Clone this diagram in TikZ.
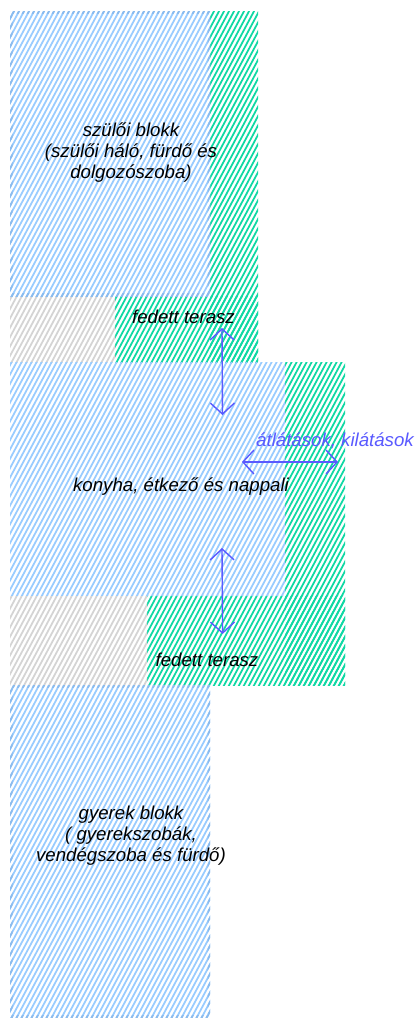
\documentclass[tikz,border=0pt]{standalone}
\usepackage{fontspec}
\setmainfont{Liberation Sans}
\usetikzlibrary{arrows.meta}
\definecolor{hblue}{HTML}{99CCFF}
\definecolor{hedge}{HTML}{8ABBEE}
\definecolor{hgreen}{HTML}{10D8A4}
\definecolor{hgrey}{HTML}{D4D4D4}
\definecolor{arrowblue}{HTML}{5A5AFF}
\newcommand{\hatchrect}[5]{% colour, x0,y0,x1,y1
  \begin{scope}
    \clip (#2,#3) rectangle (#4,#5);
    \foreach \k in {-160,...,90}{
      \draw[#1,line width=1.75pt] ({\k*5},1030) -- ({\k*5+550},0);
    }
  \end{scope}}
\newcommand{\edgedblock}[4]{%
  \hatchrect{hblue}{#1}{#2}{#3}{#4}
  \hatchrect{hedge}{#1}{#2}{#1+2.5}{#4}
  \hatchrect{hedge}{#3-2.5}{#2}{#3}{#4}
  \hatchrect{hedge}{#1}{#2}{#3}{#2+2.5}
  \hatchrect{hedge}{#1}{#4-2.5}{#3}{#4}}
\tikzset{
  label/.style={font=\itshape\fontsize{18.65pt}{21pt}\selectfont,align=center,text=black,inner sep=0pt},
  view/.style={draw=arrowblue,line width=1.4pt,{Straight Barb[length=11pt,width=24pt,line width=1.4pt]}-{Straight Barb[length=11pt,width=24pt,line width=1.4pt]}}
}
\begin{document}
\begin{tikzpicture}[x=1pt,y=-1pt]
\useasboundingbox (0,0) rectangle (416,1018);
\fill[white] (0,0) rectangle (416,1018);
\hatchrect{hgreen}{210}{11}{258}{362}
\hatchrect{hgreen}{115}{296}{258}{362}
\hatchrect{hgreen}{285}{362}{345}{685}
\hatchrect{hgreen}{147}{595}{345}{685}
\hatchrect{hgrey}{10}{296}{115}{362}
\hatchrect{hgrey}{10}{595}{147}{685}
\edgedblock{10}{11}{210}{296}
\hatchrect{hblue}{10}{362}{285}{595}
\edgedblock{10}{685}{210}{1018}
\node[label] (szuloi) at (131,153) {szülői blokk\\(szülői háló, fürdő és\\dolgozószoba)};
\node[label] (terasz1) at (183.5,317) {fedett terasz};
\node[label] (konyha) at (181,487) {konyha, étkező és nappali};
\node[label] (terasz2) at (207,660) {fedett terasz};
\node[label] (gyerek) at (131,836) {gyerek blokk\\( gyerekszobák,\\vendégszoba és fürdő)};
\node[label,text=arrowblue] (atlat) at (335,441) {átlátások, kilátások};
\coordinate (a1) at (222,328);
\coordinate (a2) at (222.5,415);
\coordinate (b1) at (242,462);
\coordinate (b2) at (338,462);
\coordinate (c1) at (222,548);
\coordinate (c2) at (222.6,634);
\draw[view] (a1) -- (a2);
\draw[view] (b1) -- (b2);
\draw[view] (c1) -- (c2);
\end{tikzpicture}
\end{document}
